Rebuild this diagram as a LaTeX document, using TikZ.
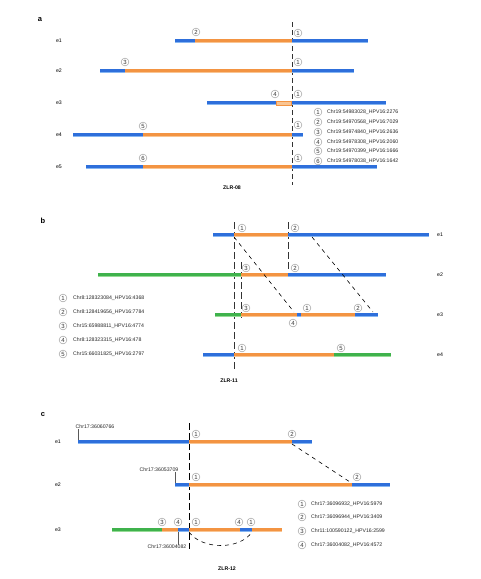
\documentclass[tikz,border=0pt]{standalone}
\usepackage{fontspec}
\setmainfont{Liberation Sans}
\definecolor{cblue}{HTML}{2E6FDB}
\definecolor{cbluelight}{HTML}{86B6F2}
\definecolor{corange}{HTML}{F39442}
\definecolor{corangelight}{HTML}{F9C593}
\definecolor{cgreen}{HTML}{3FB24C}
\definecolor{cgreenlight}{HTML}{95DB95}
\newcommand\seg[4]{\fill[c#1] (#2,#4-2) rectangle (#3,#4+2);\fill[c#1light] (#2,#4+1) rectangle (#3,#4+2);}
\begin{document}
\begin{tikzpicture}[x=1pt,y=-1pt,
  cnum/.style={circle,draw=gray!90,text=gray!40!black,inner sep=0pt,minimum size=7.8pt,line width=0.4pt,font=\fontsize{6}{6}\selectfont},
  lab/.style={anchor=west,inner sep=0pt,font=\fontsize{5.2}{6}\selectfont,text=black!85},
  elab/.style={inner sep=0pt,font=\fontsize{5.2}{6}\selectfont},
  plab/.style={inner sep=0pt,font=\bfseries\fontsize{7.5}{8}\selectfont},
  zlab/.style={inner sep=0pt,font=\bfseries\fontsize{5.2}{6}\selectfont},
  vdash/.style={dash pattern=on 5pt off 3pt,line width=0.6pt,black!80},
  ddash/.style={dash pattern=on 4pt off 4pt,line width=0.6pt,black},
  tick/.style={line width=0.5pt,gray!70!black}]
\useasboundingbox (0,0) rectangle (480,579);

% ---------------- panel a
\node[plab] (pa) at (40,20) {a};
\coordinate (atop) at (292,22); \coordinate (abot) at (292,185);
\draw[vdash] (atop) -- (abot);
\foreach \y/\t in {41/e1,71/e2,103/e3,135/e4,167/e5} \node[elab] (a\t) at (59,\y) {\t};
\seg{blue}{175}{195}{41}\seg{orange}{195}{292}{41}\seg{blue}{292}{368}{41}
\seg{blue}{100}{125}{71}\seg{orange}{125}{292}{71}\seg{blue}{292}{354}{71}
\seg{blue}{207}{276}{103}\fill[corangelight,draw=corange,line width=0.5pt] (276.3,101) rectangle (291.7,105);\seg{blue}{292}{386}{103}
\seg{blue}{73}{143}{135}\seg{orange}{143}{292}{135}\seg{blue}{292}{303}{135}
\seg{blue}{86}{143}{167}\seg{orange}{143}{292}{167}\seg{blue}{292}{377}{167}
\node[cnum] (a12) at (196,32) {2}; \node[cnum] (a11) at (298,33) {1};
\node[cnum] (a23) at (125,62) {3}; \node[cnum] (a21) at (298,62) {1};
\node[cnum] (a34) at (275,94) {4}; \node[cnum] (a31) at (298,94) {1};
\node[cnum] (a45) at (143,126) {5}; \node[cnum] (a41) at (298,125) {1};
\node[cnum] (a56) at (143,158) {6}; \node[cnum] (a51) at (298,158) {1};
\node[zlab] (za) at (232,188) {ZLR-08};
\foreach \n/\y/\t in {1/112/Chr19:54983028\_HPV16:2276,2/122/Chr19:54970568\_HPV16:7029,3/132/Chr19:54974840\_HPV16:2636,4/142/Chr19:54978308\_HPV16:2060,5/151/Chr19:54970399\_HPV16:1666,6/161/Chr19:54978038\_HPV16:1642}{
  \node[cnum] (lac\n) at (318,\y) {\n}; \node[lab] (lat\n) at (327,\y) {\t};}

% ---------------- panel b
\node[plab] (pb) at (43,221) {b};
\coordinate (b1t) at (234,222); \coordinate (b1b) at (234,370);
\coordinate (b2t) at (241,262); \coordinate (b2b) at (241,318);
\coordinate (b3t) at (288,222); \coordinate (b3b) at (288,270);
\draw[vdash,dash pattern=on 7pt off 3pt] (b1t) -- (b1b);
\draw[vdash,dash pattern=on 7pt off 3pt] (b2t) -- (b2b);
\draw[vdash,dash pattern=on 7pt off 3pt] (b3t) -- (b3b);
\seg{blue}{213}{234}{235}\seg{orange}{234}{288}{235}\seg{blue}{288}{429}{235}
\seg{green}{98}{241}{275}\seg{orange}{241}{288}{275}\seg{blue}{288}{386}{275}
\seg{green}{215}{241}{315}\seg{orange}{241}{297}{315}\seg{blue}{297}{301}{315}\seg{orange}{301}{355}{315}\seg{blue}{355}{378}{315}
\seg{blue}{203}{234}{355}\seg{orange}{234}{334}{355}\seg{green}{334}{391}{355}
\foreach \y/\t in {235/e1,275/e2,315/e3,355/e4} \node[elab] (b\t) at (440,\y) {\t};
\coordinate (d1s) at (234,237); \coordinate (d1e) at (294,312);
\coordinate (d2s) at (312,237); \coordinate (d2e) at (373,312);
\draw[ddash] (d1s) -- (d1e);
\draw[ddash] (d2s) -- (d2e);
\node[cnum] (b11) at (242,228) {1}; \node[cnum] (b12) at (295,228) {2};
\node[cnum] (b23) at (246,268) {3}; \node[cnum] (b22) at (295,268) {2};
\node[cnum] (b33) at (246,308) {3}; \node[cnum] (b31) at (307,308) {1};
\node[cnum] (b32) at (358,308) {2}; \node[cnum] (b34) at (293,323) {4};
\node[cnum] (b41) at (242,348) {1}; \node[cnum] (b45) at (341,348) {5};
\node[zlab] (zb) at (229,381) {ZLR-11};
\foreach \n/\y/\t in {1/298/Chr8:128323084\_HPV16:4368,2/312/Chr8:128419656\_HPV16:7784,3/326/Chr15:65988811\_HPV16:4774,4/340/Chr8:128323315\_HPV16:478,5/354/Chr15:66031825\_HPV16:2797}{
  \node[cnum] (lbc\n) at (63,\y) {\n}; \node[lab] (lbt\n) at (73,\y) {\t};}

% ---------------- panel c
\node[plab] (pc) at (43,415) {c};
\coordinate (ct) at (189,423); \coordinate (cb) at (189,549);
\draw[dash pattern=on 7pt off 3pt,line width=0.9pt,black] (ct) -- (cb);
\foreach \y/\t in {442/e1,485/e2,530/e3} \node[elab] (c\t) at (58,\y) {\t};
\seg{blue}{78}{189}{442}\seg{orange}{189}{292}{442}\seg{blue}{292}{312}{442}
\seg{blue}{175}{189}{485}\seg{orange}{189}{352}{485}\seg{blue}{352}{390}{485}
\seg{green}{112}{162}{530}\seg{orange}{162}{178}{530}\seg{blue}{178}{189}{530}\seg{orange}{189}{240}{530}\seg{blue}{240}{252}{530}\seg{orange}{252}{282}{530}
\node[lab,anchor=center] (cp1) at (95,427) {Chr17:36060766};
\draw[tick] (78,440) -- (cp1.south -| 78,0);
\node[lab,anchor=center] (cp2) at (159,470) {Chr17:36053709};
\draw[tick] (175,483) -- (cp2.south -| 175,0);
\node[lab,anchor=center] (cp3) at (167,547) {Chr17:36004082};
\draw[tick] (178,532) -- (cp3.north -| 178,0);
\node[cnum] (c11) at (196,434) {1}; \node[cnum] (c12) at (292,434) {2};
\node[cnum] (c21) at (196,477) {1}; \node[cnum] (c22) at (357,477) {2};
\node[cnum] (c33) at (162,522) {3}; \node[cnum] (c34) at (178,522) {4};
\node[cnum] (c31) at (196,522) {1}; \node[cnum] (c344) at (239,522) {4};
\node[cnum] (c311) at (251,522) {1};
\coordinate (cd1) at (292,444); \coordinate (cd2) at (350,482);
\draw[ddash] (cd1) -- (cd2);
\coordinate (ca1) at (189,532); \coordinate (ca2) at (252,532);
\draw[ddash] (ca1) .. controls (202,550) and (240,550) .. (ca2);
\node[zlab] (zc) at (227,569) {ZLR-12};
\foreach \n/\y/\t in {1/504/Chr17:36096932\_HPV16:5979,2/517/Chr17:36096944\_HPV16:3409,3/531/Chr11:100590122\_HPV16:2599,4/545/Chr17:36004082\_HPV16:4572}{
  \node[cnum] (lcc\n) at (302,\y) {\n}; \node[lab] (lct\n) at (311,\y) {\t};}
\end{tikzpicture}
\end{document}
